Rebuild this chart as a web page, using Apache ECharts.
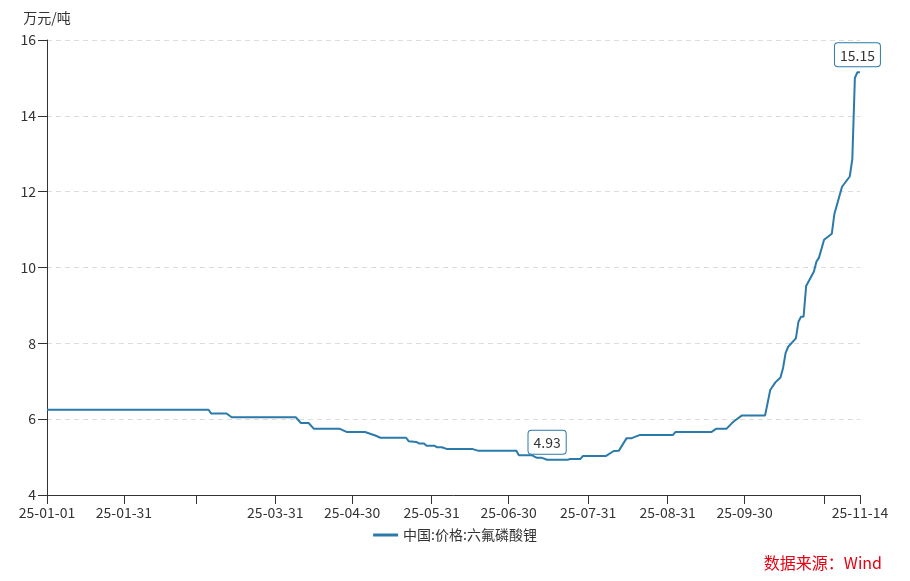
<!DOCTYPE html>
<html>
<head>
<meta charset="utf-8">
<script src="https://cdn.jsdelivr.net/npm/echarts@6/dist/echarts.min.js"></script>
<style>
html,body{margin:0;padding:0;background:#fff;}
#chart{width:910px;height:581px;}
</style>
</head>
<body>
<div id="chart"></div>
<script>
// ---- data ----
var startDate = '2025-01-01';
var endDate = '2025-11-14';
var seriesName = '中国:价格:六氟磷酸锂';
var unitName = '万元/吨';
var sourceText = '数据来源：Wind';

var keyDates = [
  '25-01-01','25-03-05','25-03-06','25-03-12','25-03-14','25-04-08','25-04-10','25-04-13','25-04-15','25-04-25',
  '25-04-28','25-05-05','25-05-09','25-05-11','25-05-21','25-05-22','25-05-25','25-05-26','25-05-28','25-05-29',
  '25-06-01','25-06-02','25-06-04','25-06-06','25-06-16','25-06-18','25-07-03','25-07-04','25-07-09','25-07-11',
  '25-07-13','25-07-15','25-07-23','25-07-24','25-07-28','25-07-29','25-08-07','25-08-10','25-08-12','25-08-15',
  '25-08-17','25-08-20','25-09-02','25-09-03','25-09-17','25-09-19','25-09-23','25-09-25','25-09-26','25-09-29',
  '25-10-08','25-10-10','25-10-12','25-10-14','25-10-15','25-10-16','25-10-17','25-10-20','25-10-21','25-10-22',
  '25-10-23','25-10-24','25-10-27','25-10-28','25-10-29','25-10-31','25-11-03','25-11-04','25-11-07','25-11-10',
  '25-11-11','25-11-12','25-11-13','25-11-14'
];
var keyPrices = [
  6.25,6.25,6.15,6.15,6.05,6.05,5.90,5.90,5.75,5.75,
  5.66,5.66,5.57,5.51,5.51,5.42,5.40,5.36,5.36,5.30,
  5.30,5.26,5.26,5.21,5.21,5.17,5.17,5.05,5.05,4.98,
  4.98,4.93,4.93,4.95,4.95,5.03,5.03,5.16,5.17,5.50,
  5.50,5.58,5.58,5.66,5.66,5.75,5.75,5.89,5.95,6.10,
  6.10,6.77,6.97,7.10,7.35,7.75,7.91,8.13,8.57,8.70,
  8.70,9.51,9.89,10.15,10.26,10.73,10.89,11.41,12.13,12.40,
  12.85,15.00,15.15,15.15
];

var tickDates = ['25-01-01','25-01-31','25-02-28','25-03-31','25-04-30','25-05-31','25-06-30','25-07-31','25-08-31','25-09-30','25-10-31','25-11-14'];
var labelDates = ['25-01-01','25-01-31','25-03-31','25-04-30','25-05-31','25-06-30','25-07-31','25-08-31','25-09-30','25-11-14'];

var yMin = 4, yMax = 16, yStep = 2;

// ---- build the category list (every calendar day) ----
function fmt(d){
  var y = String(d.getUTCFullYear()).slice(2);
  var m = ('0' + (d.getUTCMonth() + 1)).slice(-2);
  var dd = ('0' + d.getUTCDate()).slice(-2);
  return y + '-' + m + '-' + dd;
}
var categories = [];
var cur = new Date(startDate + 'T00:00:00Z');
var end = new Date(endDate + 'T00:00:00Z');
while (cur <= end) { categories.push(fmt(cur)); cur = new Date(cur.getTime() + 86400000); }

var lineData = keyDates.map(function(d, i){ return [d, keyPrices[i]]; });

var minIdx = 0, maxIdx = 0;
keyPrices.forEach(function(v, i){
  if (v < keyPrices[minIdx]) minIdx = i;
  if (v > keyPrices[maxIdx]) maxIdx = i;
});

var tickSet = {}; tickDates.forEach(function(d){ tickSet[d] = true; });
var labelSet = {}; labelDates.forEach(function(d){ labelSet[d] = true; });

var color = '#2a7aab';
var font = '"Noto Sans CJK SC", "Noto Sans", sans-serif';

var chart = echarts.init(document.getElementById('chart'), null, {renderer: 'canvas'});
chart.setOption({
  animation: false,
  backgroundColor: '#fff',
  textStyle: {fontFamily: font},
  grid: {left: 47, right: 50, top: 40, bottom: 86},
  legend: {
    data: [{name: seriesName, icon: 'rect'}],
    top: 523,
    left: 'center',
    itemWidth: 25,
    itemHeight: 3,
    itemGap: 10,
    textStyle: {color: '#333', fontSize: 14, fontFamily: font}
  },
  xAxis: {
    type: 'category',
    data: categories,
    boundaryGap: false,
    axisLine: {show: true, lineStyle: {color: '#333', width: 1}},
    axisTick: {
      show: true, length: 9, lineStyle: {color: '#333'},
      interval: function(idx, val){ return !!tickSet[val]; }
    },
    axisLabel: {
      color: '#333', fontSize: 14, margin: 11, fontFamily: font,
      interval: function(idx, val){ return !!labelSet[val]; }
    },
    splitLine: {show: false}
  },
  yAxis: {
    type: 'value',
    min: yMin, max: yMax, interval: yStep,
    name: unitName,
    nameLocation: 'end',
    nameGap: 15,
    nameTextStyle: {color: '#333', fontSize: 14, fontFamily: font},
    axisLine: {show: true, lineStyle: {color: '#333', width: 1}},
    axisTick: {show: true, length: 9, lineStyle: {color: '#333'}},
    axisLabel: {color: '#333', fontSize: 14, margin: 11, fontFamily: font},
    splitLine: {show: true, lineStyle: {color: '#dddddd', type: [5, 4], width: 1}}
  },
  series: [{
    name: seriesName,
    type: 'line',
    data: lineData,
    symbol: 'none',
    showSymbol: false,
    lineStyle: {color: color, width: 2},
    itemStyle: {color: color},
    markPoint: {
      symbol: 'circle',
      symbolSize: 0,
      label: {
        show: true,
        position: 'top',
        distance: 6,
        color: '#333',
        fontSize: 14,
        fontFamily: font,
        backgroundColor: '#fff',
        borderColor: color,
        borderWidth: 1,
        borderRadius: 3,
        padding: [5, 5, 4, 5],
        formatter: function(p){ return p.value.toFixed(2); }
      },
      data: [
        {coord: [keyDates[minIdx], keyPrices[minIdx]], value: keyPrices[minIdx]},
        {coord: [keyDates[maxIdx], keyPrices[maxIdx]], value: keyPrices[maxIdx]}
      ]
    }
  }],
  graphic: [{
    type: 'text',
    right: 28,
    top: 555,
    style: {text: sourceText, fill: '#e60012', fontSize: 16, fontFamily: font}
  }]
});
</script>
</body>
</html>
